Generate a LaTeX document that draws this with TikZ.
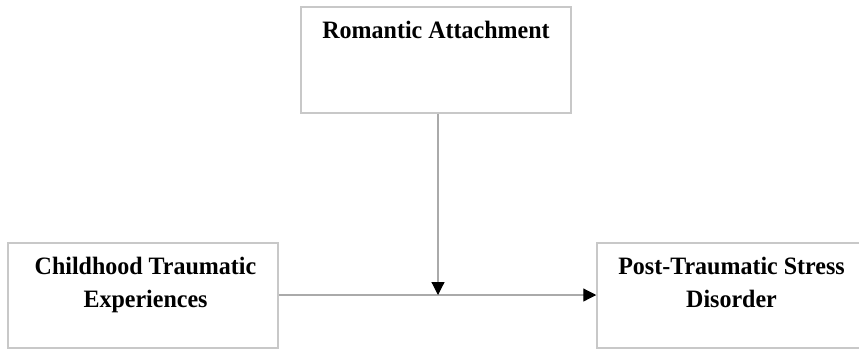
\documentclass[tikz,border=0pt]{standalone}
\usepackage{fontspec}
\setmainfont{Liberation Serif}[FakeStretch=0.96]
\usetikzlibrary{arrows.meta}
\definecolor{box_grey}{RGB}{200,200,200}
\definecolor{line_grey}{RGB}{170,170,170}
\tikzstyle{box}=[rectangle,draw=box_grey,line width=1.5pt,inner sep=0pt]
\tikzstyle{txt}=[anchor=north,align=center,inner sep=0pt,
  font=\fontsize{25}{33}\selectfont\bfseries]
\tikzstyle{arr}=[draw=line_grey,line width=1.2pt,
  -{Triangle[length=13pt,width=13pt,color=black]}]
\begin{document}
\begin{tikzpicture}[x=1pt, y=-1pt]
    \useasboundingbox (0,0) rectangle (859,349);
    \clip (0,0) rectangle (859,349);
    % boxes
    \node [style=box, minimum width=270pt, minimum height=106pt] (ra) at (436, 60) {};
    \node [style=box, minimum width=270pt, minimum height=105pt] (cte) at (143, 295.5) {};
    \node [style=box, minimum width=269pt, minimum height=105pt] (ptsd) at (731.5, 295.5) {};
    % labels
    \node [style=txt] (ra_text) at (436, 21) {Romantic Attachment};
    \node [style=txt] (cte_text) at (145.5, 257) {Childhood Traumatic\\Experiences};
    \node [style=txt] (ptsd_text) at (731.5, 257) {Post-Traumatic Stress\\Disorder};
    % arrows
    \coordinate (m) at (438, 295);
    \draw [style=arr] (cte.east |- m) to (ptsd.west |- m);
    \draw [style=arr] (m |- ra.south) to (m);
\end{tikzpicture}
\end{document}
